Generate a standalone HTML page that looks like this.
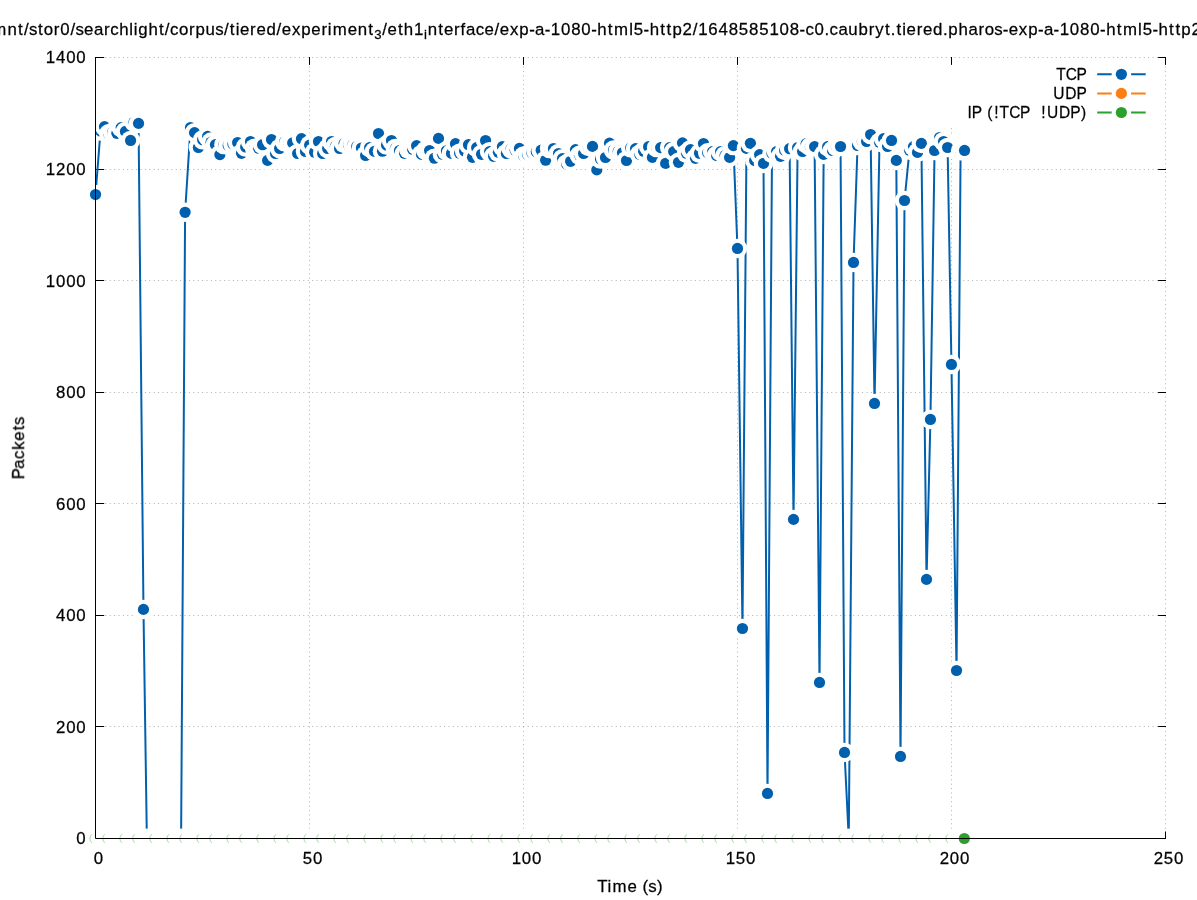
<!DOCTYPE html>
<html><head><meta charset="utf-8"><title>Packets over time</title>
<style>html,body{margin:0;padding:0;background:#fff}svg{display:block}text{font-family:"Liberation Sans",sans-serif;fill:#000;stroke:#000;stroke-width:0.25px;white-space:pre}</style></head>
<body>
<svg width="1197" height="900" viewBox="0 0 1197 900">
<rect width="1197" height="900" fill="#fff"/>
<g stroke="#000" stroke-opacity="0.31" stroke-width="1" stroke-dasharray="1 3.4" fill="none">
<path d="M96.5 726.5H1165.5"/>
<path d="M96.5 615.5H1165.5"/>
<path d="M96.5 503.5H1165.5"/>
<path d="M96.5 392.5H1165.5"/>
<path d="M96.5 280.5H1165.5"/>
<path d="M96.5 169.5H1165.5"/>
<path d="M96.5 57.5H1165.5"/>
<path d="M309.5 837.5V57.5"/>
<path d="M523.5 837.5V57.5"/>
<path d="M737.5 837.5V57.5"/>
<path d="M951.5 837.5V125.0"/>
<path d="M1165.5 837.5V57.5"/>
</g>
<g stroke="#000" stroke-width="1" fill="none">
<path d="M95.5 838.5h8.7M1166.0 838.5h-7.9"/>
<path d="M95.5 726.5h8.7M1166.0 726.5h-7.9"/>
<path d="M95.5 615.5h8.7M1166.0 615.5h-7.9"/>
<path d="M95.5 503.5h8.7M1166.0 503.5h-7.9"/>
<path d="M95.5 392.5h8.7M1166.0 392.5h-7.9"/>
<path d="M95.5 280.5h8.7M1166.0 280.5h-7.9"/>
<path d="M95.5 169.5h8.7M1166.0 169.5h-7.9"/>
<path d="M95.5 57.5h8.7M1166.0 57.5h-7.9"/>
<path d="M95.5 838.5v-7.0M95.5 57.0v7.9"/>
<path d="M309.5 838.5v-7.0M309.5 57.0v7.9"/>
<path d="M523.5 838.5v-7.0M523.5 57.0v7.9"/>
<path d="M737.5 838.5v-7.0M737.5 57.0v7.9"/>
<path d="M951.5 838.5v-7.0M951.5 57.0v7.9"/>
<path d="M1165.5 838.5v-7.0M1165.5 57.0v7.9"/>
</g>
<path d="M95.53 194.52 L100.50 131.10 L104.50 126.70 L108.70 133.80 L112.62 132.30 L116.90 133.30 L121.18 127.60 L125.46 131.40 L130.55 140.44 L134.02 122.10 L138.54 123.40 L143.47 609.40 L146.86 838.50 L151.14 838.50 L155.42 838.50 L159.70 838.50 L163.98 838.50 L168.26 838.50 L172.54 838.50 L176.82 838.50 L181.10 838.50 L185.10 212.30 L190.50 127.50 L194.56 132.66 L198.40 147.50 L202.60 139.80 L207.60 136.40 L211.06 142.10 L215.46 144.60 L219.90 154.60 L223.90 144.60 L228.20 145.40 L232.90 144.10 L237.63 142.50 L241.50 153.30 L245.65 147.00 L250.50 141.50 L254.60 148.20 L258.56 148.20 L262.57 144.70 L267.60 160.40 L271.50 139.50 L275.50 153.50 L279.60 148.50 L284.60 141.80 L288.80 143.30 L292.65 142.90 L297.66 153.50 L301.50 138.70 L305.50 151.50 L309.63 145.10 L314.60 152.20 L318.50 141.55 L322.66 153.50 L327.67 148.50 L331.55 141.55 L335.40 146.40 L339.57 148.50 L344.10 143.40 L348.60 145.20 L352.80 144.70 L356.75 146.40 L361.40 148.00 L365.60 155.50 L369.65 147.60 L374.50 151.40 L378.50 133.50 L382.50 151.20 L386.50 145.10 L391.50 140.50 L395.40 148.40 L399.50 150.50 L404.50 153.30 L408.70 149.30 L412.57 149.30 L416.60 145.70 L421.50 154.40 L425.80 150.50 L429.60 150.50 L434.40 158.20 L438.50 138.40 L442.45 154.20 L446.46 150.80 L451.50 153.40 L455.50 143.70 L459.60 153.20 L464.60 151.00 L468.50 144.70 L472.50 157.30 L476.65 147.70 L481.55 154.30 L485.56 140.50 L489.57 151.70 L493.60 156.30 L498.40 152.30 L502.40 146.70 L506.40 153.50 L511.10 148.80 L515.20 150.20 L519.45 148.40 L523.60 156.10 L527.75 154.80 L531.95 153.00 L536.30 151.70 L541.20 150.20 L545.65 160.20 L549.60 148.50 L553.50 148.50 L558.56 153.50 L562.50 158.70 L566.58 164.00 L570.60 161.30 L575.50 149.60 L579.50 155.30 L583.60 153.50 L588.40 146.40 L592.50 146.40 L596.80 169.90 L600.50 159.10 L605.50 157.50 L609.50 143.10 L613.50 150.10 L618.20 151.40 L622.50 152.80 L626.50 160.50 L630.70 147.80 L635.56 148.70 L639.57 154.30 L643.60 151.30 L648.60 146.70 L652.40 157.40 L656.60 147.60 L660.63 147.60 L665.64 163.40 L669.65 147.60 L673.66 151.60 L678.50 162.30 L682.50 142.90 L686.50 153.30 L690.50 149.70 L695.50 158.30 L699.50 153.30 L703.50 143.50 L707.70 152.80 L712.60 151.70 L716.60 155.50 L720.60 151.70 L725.10 155.40 L729.60 157.40 L733.40 145.60 L737.48 248.44 L742.47 628.50 L746.46 148.40 L750.40 143.30 L754.70 160.50 L759.60 154.60 L763.50 163.40 L767.50 793.46 L772.00 153.40 L776.54 151.70 L780.55 156.30 L784.70 150.40 L789.60 148.70 L793.52 519.40 L797.60 147.70 L802.60 151.50 L806.15 143.60 L810.40 146.60 L814.60 146.60 L819.51 682.42 L823.66 154.40 L827.67 146.70 L832.50 150.45 L836.40 146.50 L840.54 146.50 L844.52 752.42 L848.77 838.50 L853.52 262.42 L857.55 145.50 L862.30 141.50 L866.60 141.50 L870.60 134.55 L874.52 403.46 L879.50 142.30 L883.60 138.70 L887.60 146.50 L891.54 140.46 L896.30 160.40 L900.51 756.46 L904.52 200.51 L909.50 150.20 L913.50 146.60 L917.50 152.40 L921.39 143.40 L926.53 579.41 L930.44 419.44 L934.56 150.50 L939.60 137.50 L943.60 141.50 L947.60 147.50 L951.44 364.44 L956.53 670.51 L960.60 150.80 L964.54 150.47" stroke="#0060ad" stroke-width="2.0" fill="none" stroke-linejoin="round"/>
<g>
<circle cx="95.53" cy="194.52" r="9.75" fill="#fff"/><circle cx="95.53" cy="194.52" r="5.60" fill="#0060ad"/>
<circle cx="100.50" cy="131.10" r="9.75" fill="#fff"/><circle cx="100.50" cy="131.10" r="5.60" fill="#0060ad"/>
<circle cx="104.50" cy="126.70" r="9.75" fill="#fff"/><circle cx="104.50" cy="126.70" r="5.60" fill="#0060ad"/>
<circle cx="108.70" cy="133.80" r="9.75" fill="#fff"/><circle cx="108.70" cy="133.80" r="5.60" fill="#0060ad"/>
<circle cx="112.62" cy="132.30" r="9.75" fill="#fff"/><circle cx="112.62" cy="132.30" r="5.60" fill="#0060ad"/>
<circle cx="116.90" cy="133.30" r="9.75" fill="#fff"/><circle cx="116.90" cy="133.30" r="5.60" fill="#0060ad"/>
<circle cx="121.18" cy="127.60" r="9.75" fill="#fff"/><circle cx="121.18" cy="127.60" r="5.60" fill="#0060ad"/>
<circle cx="125.46" cy="131.40" r="9.75" fill="#fff"/><circle cx="125.46" cy="131.40" r="5.60" fill="#0060ad"/>
<circle cx="130.55" cy="140.44" r="9.75" fill="#fff"/><circle cx="130.55" cy="140.44" r="5.60" fill="#0060ad"/>
<circle cx="134.02" cy="122.10" r="9.75" fill="#fff"/><circle cx="134.02" cy="122.10" r="5.60" fill="#0060ad"/>
<circle cx="138.54" cy="123.40" r="9.75" fill="#fff"/><circle cx="138.54" cy="123.40" r="5.60" fill="#0060ad"/>
<circle cx="143.47" cy="609.40" r="9.75" fill="#fff"/><circle cx="143.47" cy="609.40" r="5.60" fill="#0060ad"/>
<circle cx="146.86" cy="838.50" r="9.75" fill="#fff"/><circle cx="146.86" cy="838.50" r="5.60" fill="#0060ad"/>
<circle cx="151.14" cy="838.50" r="9.75" fill="#fff"/><circle cx="151.14" cy="838.50" r="5.60" fill="#0060ad"/>
<circle cx="155.42" cy="838.50" r="9.75" fill="#fff"/><circle cx="155.42" cy="838.50" r="5.60" fill="#0060ad"/>
<circle cx="159.70" cy="838.50" r="9.75" fill="#fff"/><circle cx="159.70" cy="838.50" r="5.60" fill="#0060ad"/>
<circle cx="163.98" cy="838.50" r="9.75" fill="#fff"/><circle cx="163.98" cy="838.50" r="5.60" fill="#0060ad"/>
<circle cx="168.26" cy="838.50" r="9.75" fill="#fff"/><circle cx="168.26" cy="838.50" r="5.60" fill="#0060ad"/>
<circle cx="172.54" cy="838.50" r="9.75" fill="#fff"/><circle cx="172.54" cy="838.50" r="5.60" fill="#0060ad"/>
<circle cx="176.82" cy="838.50" r="9.75" fill="#fff"/><circle cx="176.82" cy="838.50" r="5.60" fill="#0060ad"/>
<circle cx="181.10" cy="838.50" r="9.75" fill="#fff"/><circle cx="181.10" cy="838.50" r="5.60" fill="#0060ad"/>
<circle cx="185.10" cy="212.30" r="9.75" fill="#fff"/><circle cx="185.10" cy="212.30" r="5.60" fill="#0060ad"/>
<circle cx="190.50" cy="127.50" r="9.75" fill="#fff"/><circle cx="190.50" cy="127.50" r="5.60" fill="#0060ad"/>
<circle cx="194.56" cy="132.66" r="9.75" fill="#fff"/><circle cx="194.56" cy="132.66" r="5.60" fill="#0060ad"/>
<circle cx="198.40" cy="147.50" r="9.75" fill="#fff"/><circle cx="198.40" cy="147.50" r="5.60" fill="#0060ad"/>
<circle cx="202.60" cy="139.80" r="9.75" fill="#fff"/><circle cx="202.60" cy="139.80" r="5.60" fill="#0060ad"/>
<circle cx="207.60" cy="136.40" r="9.75" fill="#fff"/><circle cx="207.60" cy="136.40" r="5.60" fill="#0060ad"/>
<circle cx="211.06" cy="142.10" r="9.75" fill="#fff"/><circle cx="211.06" cy="142.10" r="5.60" fill="#0060ad"/>
<circle cx="215.46" cy="144.60" r="9.75" fill="#fff"/><circle cx="215.46" cy="144.60" r="5.60" fill="#0060ad"/>
<circle cx="219.90" cy="154.60" r="9.75" fill="#fff"/><circle cx="219.90" cy="154.60" r="5.60" fill="#0060ad"/>
<circle cx="223.90" cy="144.60" r="9.75" fill="#fff"/><circle cx="223.90" cy="144.60" r="5.60" fill="#0060ad"/>
<circle cx="228.20" cy="145.40" r="9.75" fill="#fff"/><circle cx="228.20" cy="145.40" r="5.60" fill="#0060ad"/>
<circle cx="232.90" cy="144.10" r="9.75" fill="#fff"/><circle cx="232.90" cy="144.10" r="5.60" fill="#0060ad"/>
<circle cx="237.63" cy="142.50" r="9.75" fill="#fff"/><circle cx="237.63" cy="142.50" r="5.60" fill="#0060ad"/>
<circle cx="241.50" cy="153.30" r="9.75" fill="#fff"/><circle cx="241.50" cy="153.30" r="5.60" fill="#0060ad"/>
<circle cx="245.65" cy="147.00" r="9.75" fill="#fff"/><circle cx="245.65" cy="147.00" r="5.60" fill="#0060ad"/>
<circle cx="250.50" cy="141.50" r="9.75" fill="#fff"/><circle cx="250.50" cy="141.50" r="5.60" fill="#0060ad"/>
<circle cx="254.60" cy="148.20" r="9.75" fill="#fff"/><circle cx="254.60" cy="148.20" r="5.60" fill="#0060ad"/>
<circle cx="258.56" cy="148.20" r="9.75" fill="#fff"/><circle cx="258.56" cy="148.20" r="5.60" fill="#0060ad"/>
<circle cx="262.57" cy="144.70" r="9.75" fill="#fff"/><circle cx="262.57" cy="144.70" r="5.60" fill="#0060ad"/>
<circle cx="267.60" cy="160.40" r="9.75" fill="#fff"/><circle cx="267.60" cy="160.40" r="5.60" fill="#0060ad"/>
<circle cx="271.50" cy="139.50" r="9.75" fill="#fff"/><circle cx="271.50" cy="139.50" r="5.60" fill="#0060ad"/>
<circle cx="275.50" cy="153.50" r="9.75" fill="#fff"/><circle cx="275.50" cy="153.50" r="5.60" fill="#0060ad"/>
<circle cx="279.60" cy="148.50" r="9.75" fill="#fff"/><circle cx="279.60" cy="148.50" r="5.60" fill="#0060ad"/>
<circle cx="284.60" cy="141.80" r="9.75" fill="#fff"/><circle cx="284.60" cy="141.80" r="5.60" fill="#0060ad"/>
<circle cx="288.80" cy="143.30" r="9.75" fill="#fff"/><circle cx="288.80" cy="143.30" r="5.60" fill="#0060ad"/>
<circle cx="292.65" cy="142.90" r="9.75" fill="#fff"/><circle cx="292.65" cy="142.90" r="5.60" fill="#0060ad"/>
<circle cx="297.66" cy="153.50" r="9.75" fill="#fff"/><circle cx="297.66" cy="153.50" r="5.60" fill="#0060ad"/>
<circle cx="301.50" cy="138.70" r="9.75" fill="#fff"/><circle cx="301.50" cy="138.70" r="5.60" fill="#0060ad"/>
<circle cx="305.50" cy="151.50" r="9.75" fill="#fff"/><circle cx="305.50" cy="151.50" r="5.60" fill="#0060ad"/>
<circle cx="309.63" cy="145.10" r="9.75" fill="#fff"/><circle cx="309.63" cy="145.10" r="5.60" fill="#0060ad"/>
<circle cx="314.60" cy="152.20" r="9.75" fill="#fff"/><circle cx="314.60" cy="152.20" r="5.60" fill="#0060ad"/>
<circle cx="318.50" cy="141.55" r="9.75" fill="#fff"/><circle cx="318.50" cy="141.55" r="5.60" fill="#0060ad"/>
<circle cx="322.66" cy="153.50" r="9.75" fill="#fff"/><circle cx="322.66" cy="153.50" r="5.60" fill="#0060ad"/>
<circle cx="327.67" cy="148.50" r="9.75" fill="#fff"/><circle cx="327.67" cy="148.50" r="5.60" fill="#0060ad"/>
<circle cx="331.55" cy="141.55" r="9.75" fill="#fff"/><circle cx="331.55" cy="141.55" r="5.60" fill="#0060ad"/>
<circle cx="335.40" cy="146.40" r="9.75" fill="#fff"/><circle cx="335.40" cy="146.40" r="5.60" fill="#0060ad"/>
<circle cx="339.57" cy="148.50" r="9.75" fill="#fff"/><circle cx="339.57" cy="148.50" r="5.60" fill="#0060ad"/>
<circle cx="344.10" cy="143.40" r="9.75" fill="#fff"/><circle cx="344.10" cy="143.40" r="5.60" fill="#0060ad"/>
<circle cx="348.60" cy="145.20" r="9.75" fill="#fff"/><circle cx="348.60" cy="145.20" r="5.60" fill="#0060ad"/>
<circle cx="352.80" cy="144.70" r="9.75" fill="#fff"/><circle cx="352.80" cy="144.70" r="5.60" fill="#0060ad"/>
<circle cx="356.75" cy="146.40" r="9.75" fill="#fff"/><circle cx="356.75" cy="146.40" r="5.60" fill="#0060ad"/>
<circle cx="361.40" cy="148.00" r="9.75" fill="#fff"/><circle cx="361.40" cy="148.00" r="5.60" fill="#0060ad"/>
<circle cx="365.60" cy="155.50" r="9.75" fill="#fff"/><circle cx="365.60" cy="155.50" r="5.60" fill="#0060ad"/>
<circle cx="369.65" cy="147.60" r="9.75" fill="#fff"/><circle cx="369.65" cy="147.60" r="5.60" fill="#0060ad"/>
<circle cx="374.50" cy="151.40" r="9.75" fill="#fff"/><circle cx="374.50" cy="151.40" r="5.60" fill="#0060ad"/>
<circle cx="378.50" cy="133.50" r="9.75" fill="#fff"/><circle cx="378.50" cy="133.50" r="5.60" fill="#0060ad"/>
<circle cx="382.50" cy="151.20" r="9.75" fill="#fff"/><circle cx="382.50" cy="151.20" r="5.60" fill="#0060ad"/>
<circle cx="386.50" cy="145.10" r="9.75" fill="#fff"/><circle cx="386.50" cy="145.10" r="5.60" fill="#0060ad"/>
<circle cx="391.50" cy="140.50" r="9.75" fill="#fff"/><circle cx="391.50" cy="140.50" r="5.60" fill="#0060ad"/>
<circle cx="395.40" cy="148.40" r="9.75" fill="#fff"/><circle cx="395.40" cy="148.40" r="5.60" fill="#0060ad"/>
<circle cx="399.50" cy="150.50" r="9.75" fill="#fff"/><circle cx="399.50" cy="150.50" r="5.60" fill="#0060ad"/>
<circle cx="404.50" cy="153.30" r="9.75" fill="#fff"/><circle cx="404.50" cy="153.30" r="5.60" fill="#0060ad"/>
<circle cx="408.70" cy="149.30" r="9.75" fill="#fff"/><circle cx="408.70" cy="149.30" r="5.60" fill="#0060ad"/>
<circle cx="412.57" cy="149.30" r="9.75" fill="#fff"/><circle cx="412.57" cy="149.30" r="5.60" fill="#0060ad"/>
<circle cx="416.60" cy="145.70" r="9.75" fill="#fff"/><circle cx="416.60" cy="145.70" r="5.60" fill="#0060ad"/>
<circle cx="421.50" cy="154.40" r="9.75" fill="#fff"/><circle cx="421.50" cy="154.40" r="5.60" fill="#0060ad"/>
<circle cx="425.80" cy="150.50" r="9.75" fill="#fff"/><circle cx="425.80" cy="150.50" r="5.60" fill="#0060ad"/>
<circle cx="429.60" cy="150.50" r="9.75" fill="#fff"/><circle cx="429.60" cy="150.50" r="5.60" fill="#0060ad"/>
<circle cx="434.40" cy="158.20" r="9.75" fill="#fff"/><circle cx="434.40" cy="158.20" r="5.60" fill="#0060ad"/>
<circle cx="438.50" cy="138.40" r="9.75" fill="#fff"/><circle cx="438.50" cy="138.40" r="5.60" fill="#0060ad"/>
<circle cx="442.45" cy="154.20" r="9.75" fill="#fff"/><circle cx="442.45" cy="154.20" r="5.60" fill="#0060ad"/>
<circle cx="446.46" cy="150.80" r="9.75" fill="#fff"/><circle cx="446.46" cy="150.80" r="5.60" fill="#0060ad"/>
<circle cx="451.50" cy="153.40" r="9.75" fill="#fff"/><circle cx="451.50" cy="153.40" r="5.60" fill="#0060ad"/>
<circle cx="455.50" cy="143.70" r="9.75" fill="#fff"/><circle cx="455.50" cy="143.70" r="5.60" fill="#0060ad"/>
<circle cx="459.60" cy="153.20" r="9.75" fill="#fff"/><circle cx="459.60" cy="153.20" r="5.60" fill="#0060ad"/>
<circle cx="464.60" cy="151.00" r="9.75" fill="#fff"/><circle cx="464.60" cy="151.00" r="5.60" fill="#0060ad"/>
<circle cx="468.50" cy="144.70" r="9.75" fill="#fff"/><circle cx="468.50" cy="144.70" r="5.60" fill="#0060ad"/>
<circle cx="472.50" cy="157.30" r="9.75" fill="#fff"/><circle cx="472.50" cy="157.30" r="5.60" fill="#0060ad"/>
<circle cx="476.65" cy="147.70" r="9.75" fill="#fff"/><circle cx="476.65" cy="147.70" r="5.60" fill="#0060ad"/>
<circle cx="481.55" cy="154.30" r="9.75" fill="#fff"/><circle cx="481.55" cy="154.30" r="5.60" fill="#0060ad"/>
<circle cx="485.56" cy="140.50" r="9.75" fill="#fff"/><circle cx="485.56" cy="140.50" r="5.60" fill="#0060ad"/>
<circle cx="489.57" cy="151.70" r="9.75" fill="#fff"/><circle cx="489.57" cy="151.70" r="5.60" fill="#0060ad"/>
<circle cx="493.60" cy="156.30" r="9.75" fill="#fff"/><circle cx="493.60" cy="156.30" r="5.60" fill="#0060ad"/>
<circle cx="498.40" cy="152.30" r="9.75" fill="#fff"/><circle cx="498.40" cy="152.30" r="5.60" fill="#0060ad"/>
<circle cx="502.40" cy="146.70" r="9.75" fill="#fff"/><circle cx="502.40" cy="146.70" r="5.60" fill="#0060ad"/>
<circle cx="506.40" cy="153.50" r="9.75" fill="#fff"/><circle cx="506.40" cy="153.50" r="5.60" fill="#0060ad"/>
<circle cx="511.10" cy="148.80" r="9.75" fill="#fff"/><circle cx="511.10" cy="148.80" r="5.60" fill="#0060ad"/>
<circle cx="515.20" cy="150.20" r="9.75" fill="#fff"/><circle cx="515.20" cy="150.20" r="5.60" fill="#0060ad"/>
<circle cx="519.45" cy="148.40" r="9.75" fill="#fff"/><circle cx="519.45" cy="148.40" r="5.60" fill="#0060ad"/>
<circle cx="523.60" cy="156.10" r="9.75" fill="#fff"/><circle cx="523.60" cy="156.10" r="5.60" fill="#0060ad"/>
<circle cx="527.75" cy="154.80" r="9.75" fill="#fff"/><circle cx="527.75" cy="154.80" r="5.60" fill="#0060ad"/>
<circle cx="531.95" cy="153.00" r="9.75" fill="#fff"/><circle cx="531.95" cy="153.00" r="5.60" fill="#0060ad"/>
<circle cx="536.30" cy="151.70" r="9.75" fill="#fff"/><circle cx="536.30" cy="151.70" r="5.60" fill="#0060ad"/>
<circle cx="541.20" cy="150.20" r="9.75" fill="#fff"/><circle cx="541.20" cy="150.20" r="5.60" fill="#0060ad"/>
<circle cx="545.65" cy="160.20" r="9.75" fill="#fff"/><circle cx="545.65" cy="160.20" r="5.60" fill="#0060ad"/>
<circle cx="549.60" cy="148.50" r="9.75" fill="#fff"/><circle cx="549.60" cy="148.50" r="5.60" fill="#0060ad"/>
<circle cx="553.50" cy="148.50" r="9.75" fill="#fff"/><circle cx="553.50" cy="148.50" r="5.60" fill="#0060ad"/>
<circle cx="558.56" cy="153.50" r="9.75" fill="#fff"/><circle cx="558.56" cy="153.50" r="5.60" fill="#0060ad"/>
<circle cx="562.50" cy="158.70" r="9.75" fill="#fff"/><circle cx="562.50" cy="158.70" r="5.60" fill="#0060ad"/>
<circle cx="566.58" cy="164.00" r="9.75" fill="#fff"/><circle cx="566.58" cy="164.00" r="5.60" fill="#0060ad"/>
<circle cx="570.60" cy="161.30" r="9.75" fill="#fff"/><circle cx="570.60" cy="161.30" r="5.60" fill="#0060ad"/>
<circle cx="575.50" cy="149.60" r="9.75" fill="#fff"/><circle cx="575.50" cy="149.60" r="5.60" fill="#0060ad"/>
<circle cx="579.50" cy="155.30" r="9.75" fill="#fff"/><circle cx="579.50" cy="155.30" r="5.60" fill="#0060ad"/>
<circle cx="583.60" cy="153.50" r="9.75" fill="#fff"/><circle cx="583.60" cy="153.50" r="5.60" fill="#0060ad"/>
<circle cx="588.40" cy="146.40" r="9.75" fill="#fff"/><circle cx="588.40" cy="146.40" r="5.60" fill="#0060ad"/>
<circle cx="592.50" cy="146.40" r="9.75" fill="#fff"/><circle cx="592.50" cy="146.40" r="5.60" fill="#0060ad"/>
<circle cx="596.80" cy="169.90" r="9.75" fill="#fff"/><circle cx="596.80" cy="169.90" r="5.60" fill="#0060ad"/>
<circle cx="600.50" cy="159.10" r="9.75" fill="#fff"/><circle cx="600.50" cy="159.10" r="5.60" fill="#0060ad"/>
<circle cx="605.50" cy="157.50" r="9.75" fill="#fff"/><circle cx="605.50" cy="157.50" r="5.60" fill="#0060ad"/>
<circle cx="609.50" cy="143.10" r="9.75" fill="#fff"/><circle cx="609.50" cy="143.10" r="5.60" fill="#0060ad"/>
<circle cx="613.50" cy="150.10" r="9.75" fill="#fff"/><circle cx="613.50" cy="150.10" r="5.60" fill="#0060ad"/>
<circle cx="618.20" cy="151.40" r="9.75" fill="#fff"/><circle cx="618.20" cy="151.40" r="5.60" fill="#0060ad"/>
<circle cx="622.50" cy="152.80" r="9.75" fill="#fff"/><circle cx="622.50" cy="152.80" r="5.60" fill="#0060ad"/>
<circle cx="626.50" cy="160.50" r="9.75" fill="#fff"/><circle cx="626.50" cy="160.50" r="5.60" fill="#0060ad"/>
<circle cx="630.70" cy="147.80" r="9.75" fill="#fff"/><circle cx="630.70" cy="147.80" r="5.60" fill="#0060ad"/>
<circle cx="635.56" cy="148.70" r="9.75" fill="#fff"/><circle cx="635.56" cy="148.70" r="5.60" fill="#0060ad"/>
<circle cx="639.57" cy="154.30" r="9.75" fill="#fff"/><circle cx="639.57" cy="154.30" r="5.60" fill="#0060ad"/>
<circle cx="643.60" cy="151.30" r="9.75" fill="#fff"/><circle cx="643.60" cy="151.30" r="5.60" fill="#0060ad"/>
<circle cx="648.60" cy="146.70" r="9.75" fill="#fff"/><circle cx="648.60" cy="146.70" r="5.60" fill="#0060ad"/>
<circle cx="652.40" cy="157.40" r="9.75" fill="#fff"/><circle cx="652.40" cy="157.40" r="5.60" fill="#0060ad"/>
<circle cx="656.60" cy="147.60" r="9.75" fill="#fff"/><circle cx="656.60" cy="147.60" r="5.60" fill="#0060ad"/>
<circle cx="660.63" cy="147.60" r="9.75" fill="#fff"/><circle cx="660.63" cy="147.60" r="5.60" fill="#0060ad"/>
<circle cx="665.64" cy="163.40" r="9.75" fill="#fff"/><circle cx="665.64" cy="163.40" r="5.60" fill="#0060ad"/>
<circle cx="669.65" cy="147.60" r="9.75" fill="#fff"/><circle cx="669.65" cy="147.60" r="5.60" fill="#0060ad"/>
<circle cx="673.66" cy="151.60" r="9.75" fill="#fff"/><circle cx="673.66" cy="151.60" r="5.60" fill="#0060ad"/>
<circle cx="678.50" cy="162.30" r="9.75" fill="#fff"/><circle cx="678.50" cy="162.30" r="5.60" fill="#0060ad"/>
<circle cx="682.50" cy="142.90" r="9.75" fill="#fff"/><circle cx="682.50" cy="142.90" r="5.60" fill="#0060ad"/>
<circle cx="686.50" cy="153.30" r="9.75" fill="#fff"/><circle cx="686.50" cy="153.30" r="5.60" fill="#0060ad"/>
<circle cx="690.50" cy="149.70" r="9.75" fill="#fff"/><circle cx="690.50" cy="149.70" r="5.60" fill="#0060ad"/>
<circle cx="695.50" cy="158.30" r="9.75" fill="#fff"/><circle cx="695.50" cy="158.30" r="5.60" fill="#0060ad"/>
<circle cx="699.50" cy="153.30" r="9.75" fill="#fff"/><circle cx="699.50" cy="153.30" r="5.60" fill="#0060ad"/>
<circle cx="703.50" cy="143.50" r="9.75" fill="#fff"/><circle cx="703.50" cy="143.50" r="5.60" fill="#0060ad"/>
<circle cx="707.70" cy="152.80" r="9.75" fill="#fff"/><circle cx="707.70" cy="152.80" r="5.60" fill="#0060ad"/>
<circle cx="712.60" cy="151.70" r="9.75" fill="#fff"/><circle cx="712.60" cy="151.70" r="5.60" fill="#0060ad"/>
<circle cx="716.60" cy="155.50" r="9.75" fill="#fff"/><circle cx="716.60" cy="155.50" r="5.60" fill="#0060ad"/>
<circle cx="720.60" cy="151.70" r="9.75" fill="#fff"/><circle cx="720.60" cy="151.70" r="5.60" fill="#0060ad"/>
<circle cx="725.10" cy="155.40" r="9.75" fill="#fff"/><circle cx="725.10" cy="155.40" r="5.60" fill="#0060ad"/>
<circle cx="729.60" cy="157.40" r="9.75" fill="#fff"/><circle cx="729.60" cy="157.40" r="5.60" fill="#0060ad"/>
<circle cx="733.40" cy="145.60" r="9.75" fill="#fff"/><circle cx="733.40" cy="145.60" r="5.60" fill="#0060ad"/>
<circle cx="737.48" cy="248.44" r="9.75" fill="#fff"/><circle cx="737.48" cy="248.44" r="5.60" fill="#0060ad"/>
<circle cx="742.47" cy="628.50" r="9.75" fill="#fff"/><circle cx="742.47" cy="628.50" r="5.60" fill="#0060ad"/>
<circle cx="746.46" cy="148.40" r="9.75" fill="#fff"/><circle cx="746.46" cy="148.40" r="5.60" fill="#0060ad"/>
<circle cx="750.40" cy="143.30" r="9.75" fill="#fff"/><circle cx="750.40" cy="143.30" r="5.60" fill="#0060ad"/>
<circle cx="754.70" cy="160.50" r="9.75" fill="#fff"/><circle cx="754.70" cy="160.50" r="5.60" fill="#0060ad"/>
<circle cx="759.60" cy="154.60" r="9.75" fill="#fff"/><circle cx="759.60" cy="154.60" r="5.60" fill="#0060ad"/>
<circle cx="763.50" cy="163.40" r="9.75" fill="#fff"/><circle cx="763.50" cy="163.40" r="5.60" fill="#0060ad"/>
<circle cx="767.50" cy="793.46" r="9.75" fill="#fff"/><circle cx="767.50" cy="793.46" r="5.60" fill="#0060ad"/>
<circle cx="772.00" cy="153.40" r="9.75" fill="#fff"/><circle cx="772.00" cy="153.40" r="5.60" fill="#0060ad"/>
<circle cx="776.54" cy="151.70" r="9.75" fill="#fff"/><circle cx="776.54" cy="151.70" r="5.60" fill="#0060ad"/>
<circle cx="780.55" cy="156.30" r="9.75" fill="#fff"/><circle cx="780.55" cy="156.30" r="5.60" fill="#0060ad"/>
<circle cx="784.70" cy="150.40" r="9.75" fill="#fff"/><circle cx="784.70" cy="150.40" r="5.60" fill="#0060ad"/>
<circle cx="789.60" cy="148.70" r="9.75" fill="#fff"/><circle cx="789.60" cy="148.70" r="5.60" fill="#0060ad"/>
<circle cx="793.52" cy="519.40" r="9.75" fill="#fff"/><circle cx="793.52" cy="519.40" r="5.60" fill="#0060ad"/>
<circle cx="797.60" cy="147.70" r="9.75" fill="#fff"/><circle cx="797.60" cy="147.70" r="5.60" fill="#0060ad"/>
<circle cx="802.60" cy="151.50" r="9.75" fill="#fff"/><circle cx="802.60" cy="151.50" r="5.60" fill="#0060ad"/>
<circle cx="806.15" cy="143.60" r="9.75" fill="#fff"/><circle cx="806.15" cy="143.60" r="5.60" fill="#0060ad"/>
<circle cx="810.40" cy="146.60" r="9.75" fill="#fff"/><circle cx="810.40" cy="146.60" r="5.60" fill="#0060ad"/>
<circle cx="814.60" cy="146.60" r="9.75" fill="#fff"/><circle cx="814.60" cy="146.60" r="5.60" fill="#0060ad"/>
<circle cx="819.51" cy="682.42" r="9.75" fill="#fff"/><circle cx="819.51" cy="682.42" r="5.60" fill="#0060ad"/>
<circle cx="823.66" cy="154.40" r="9.75" fill="#fff"/><circle cx="823.66" cy="154.40" r="5.60" fill="#0060ad"/>
<circle cx="827.67" cy="146.70" r="9.75" fill="#fff"/><circle cx="827.67" cy="146.70" r="5.60" fill="#0060ad"/>
<circle cx="832.50" cy="150.45" r="9.75" fill="#fff"/><circle cx="832.50" cy="150.45" r="5.60" fill="#0060ad"/>
<circle cx="836.40" cy="146.50" r="9.75" fill="#fff"/><circle cx="836.40" cy="146.50" r="5.60" fill="#0060ad"/>
<circle cx="840.54" cy="146.50" r="9.75" fill="#fff"/><circle cx="840.54" cy="146.50" r="5.60" fill="#0060ad"/>
<circle cx="844.52" cy="752.42" r="9.75" fill="#fff"/><circle cx="844.52" cy="752.42" r="5.60" fill="#0060ad"/>
<circle cx="848.77" cy="838.50" r="9.75" fill="#fff"/><circle cx="848.77" cy="838.50" r="5.60" fill="#0060ad"/>
<circle cx="853.52" cy="262.42" r="9.75" fill="#fff"/><circle cx="853.52" cy="262.42" r="5.60" fill="#0060ad"/>
<circle cx="857.55" cy="145.50" r="9.75" fill="#fff"/><circle cx="857.55" cy="145.50" r="5.60" fill="#0060ad"/>
<circle cx="862.30" cy="141.50" r="9.75" fill="#fff"/><circle cx="862.30" cy="141.50" r="5.60" fill="#0060ad"/>
<circle cx="866.60" cy="141.50" r="9.75" fill="#fff"/><circle cx="866.60" cy="141.50" r="5.60" fill="#0060ad"/>
<circle cx="870.60" cy="134.55" r="9.75" fill="#fff"/><circle cx="870.60" cy="134.55" r="5.60" fill="#0060ad"/>
<circle cx="874.52" cy="403.46" r="9.75" fill="#fff"/><circle cx="874.52" cy="403.46" r="5.60" fill="#0060ad"/>
<circle cx="879.50" cy="142.30" r="9.75" fill="#fff"/><circle cx="879.50" cy="142.30" r="5.60" fill="#0060ad"/>
<circle cx="883.60" cy="138.70" r="9.75" fill="#fff"/><circle cx="883.60" cy="138.70" r="5.60" fill="#0060ad"/>
<circle cx="887.60" cy="146.50" r="9.75" fill="#fff"/><circle cx="887.60" cy="146.50" r="5.60" fill="#0060ad"/>
<circle cx="891.54" cy="140.46" r="9.75" fill="#fff"/><circle cx="891.54" cy="140.46" r="5.60" fill="#0060ad"/>
<circle cx="896.30" cy="160.40" r="9.75" fill="#fff"/><circle cx="896.30" cy="160.40" r="5.60" fill="#0060ad"/>
<circle cx="900.51" cy="756.46" r="9.75" fill="#fff"/><circle cx="900.51" cy="756.46" r="5.60" fill="#0060ad"/>
<circle cx="904.52" cy="200.51" r="9.75" fill="#fff"/><circle cx="904.52" cy="200.51" r="5.60" fill="#0060ad"/>
<circle cx="909.50" cy="150.20" r="9.75" fill="#fff"/><circle cx="909.50" cy="150.20" r="5.60" fill="#0060ad"/>
<circle cx="913.50" cy="146.60" r="9.75" fill="#fff"/><circle cx="913.50" cy="146.60" r="5.60" fill="#0060ad"/>
<circle cx="917.50" cy="152.40" r="9.75" fill="#fff"/><circle cx="917.50" cy="152.40" r="5.60" fill="#0060ad"/>
<circle cx="921.39" cy="143.40" r="9.75" fill="#fff"/><circle cx="921.39" cy="143.40" r="5.60" fill="#0060ad"/>
<circle cx="926.53" cy="579.41" r="9.75" fill="#fff"/><circle cx="926.53" cy="579.41" r="5.60" fill="#0060ad"/>
<circle cx="930.44" cy="419.44" r="9.75" fill="#fff"/><circle cx="930.44" cy="419.44" r="5.60" fill="#0060ad"/>
<circle cx="934.56" cy="150.50" r="9.75" fill="#fff"/><circle cx="934.56" cy="150.50" r="5.60" fill="#0060ad"/>
<circle cx="939.60" cy="137.50" r="9.75" fill="#fff"/><circle cx="939.60" cy="137.50" r="5.60" fill="#0060ad"/>
<circle cx="943.60" cy="141.50" r="9.75" fill="#fff"/><circle cx="943.60" cy="141.50" r="5.60" fill="#0060ad"/>
<circle cx="947.60" cy="147.50" r="9.75" fill="#fff"/><circle cx="947.60" cy="147.50" r="5.60" fill="#0060ad"/>
<circle cx="951.44" cy="364.44" r="9.75" fill="#fff"/><circle cx="951.44" cy="364.44" r="5.60" fill="#0060ad"/>
<circle cx="956.53" cy="670.51" r="9.75" fill="#fff"/><circle cx="956.53" cy="670.51" r="5.60" fill="#0060ad"/>
<circle cx="960.60" cy="150.80" r="9.75" fill="#fff"/><circle cx="960.60" cy="150.80" r="5.60" fill="#0060ad"/>
<circle cx="964.54" cy="150.47" r="9.75" fill="#fff"/><circle cx="964.54" cy="150.47" r="5.60" fill="#0060ad"/>
</g>
<path d="M95.50 838.50H964.34" stroke="#fff" stroke-width="19.50" stroke-linecap="round" fill="none"/>
<g stroke="#2ca02c" stroke-opacity="0.6" stroke-width="0.7" fill="none">
<path d="M91.90 834.21A5.60 5.60 0 0 0 91.90 842.79"/>
<path d="M104.74 834.21A5.60 5.60 0 0 0 104.74 842.79"/>
<path d="M121.86 834.21A5.60 5.60 0 0 0 121.86 842.79"/>
<path d="M134.70 834.21A5.60 5.60 0 0 0 134.70 842.79"/>
<path d="M151.82 834.21A5.60 5.60 0 0 0 151.82 842.79"/>
<path d="M168.94 834.21A5.60 5.60 0 0 0 168.94 842.79"/>
<path d="M181.78 834.21A5.60 5.60 0 0 0 181.78 842.79"/>
<path d="M198.90 834.21A5.60 5.60 0 0 0 198.90 842.79"/>
<path d="M211.74 834.21A5.60 5.60 0 0 0 211.74 842.79"/>
<path d="M228.86 834.21A5.60 5.60 0 0 0 228.86 842.79"/>
<path d="M241.70 834.21A5.60 5.60 0 0 0 241.70 842.79"/>
<path d="M258.82 834.21A5.60 5.60 0 0 0 258.82 842.79"/>
<path d="M275.94 834.21A5.60 5.60 0 0 0 275.94 842.79"/>
<path d="M288.78 834.21A5.60 5.60 0 0 0 288.78 842.79"/>
<path d="M305.90 834.21A5.60 5.60 0 0 0 305.90 842.79"/>
<path d="M318.74 834.21A5.60 5.60 0 0 0 318.74 842.79"/>
<path d="M335.86 834.21A5.60 5.60 0 0 0 335.86 842.79"/>
<path d="M348.70 834.21A5.60 5.60 0 0 0 348.70 842.79"/>
<path d="M365.82 834.21A5.60 5.60 0 0 0 365.82 842.79"/>
<path d="M382.94 834.21A5.60 5.60 0 0 0 382.94 842.79"/>
<path d="M395.78 834.21A5.60 5.60 0 0 0 395.78 842.79"/>
<path d="M412.90 834.21A5.60 5.60 0 0 0 412.90 842.79"/>
<path d="M425.74 834.21A5.60 5.60 0 0 0 425.74 842.79"/>
<path d="M442.86 834.21A5.60 5.60 0 0 0 442.86 842.79"/>
<path d="M455.70 834.21A5.60 5.60 0 0 0 455.70 842.79"/>
<path d="M472.82 834.21A5.60 5.60 0 0 0 472.82 842.79"/>
<path d="M489.94 834.21A5.60 5.60 0 0 0 489.94 842.79"/>
<path d="M502.78 834.21A5.60 5.60 0 0 0 502.78 842.79"/>
<path d="M519.90 834.21A5.60 5.60 0 0 0 519.90 842.79"/>
<path d="M532.74 834.21A5.60 5.60 0 0 0 532.74 842.79"/>
<path d="M549.86 834.21A5.60 5.60 0 0 0 549.86 842.79"/>
<path d="M562.70 834.21A5.60 5.60 0 0 0 562.70 842.79"/>
<path d="M579.82 834.21A5.60 5.60 0 0 0 579.82 842.79"/>
<path d="M596.94 834.21A5.60 5.60 0 0 0 596.94 842.79"/>
<path d="M609.78 834.21A5.60 5.60 0 0 0 609.78 842.79"/>
<path d="M626.90 834.21A5.60 5.60 0 0 0 626.90 842.79"/>
<path d="M639.74 834.21A5.60 5.60 0 0 0 639.74 842.79"/>
<path d="M656.86 834.21A5.60 5.60 0 0 0 656.86 842.79"/>
<path d="M669.70 834.21A5.60 5.60 0 0 0 669.70 842.79"/>
<path d="M686.82 834.21A5.60 5.60 0 0 0 686.82 842.79"/>
<path d="M703.94 834.21A5.60 5.60 0 0 0 703.94 842.79"/>
<path d="M716.78 834.21A5.60 5.60 0 0 0 716.78 842.79"/>
<path d="M733.90 834.21A5.60 5.60 0 0 0 733.90 842.79"/>
<path d="M746.74 834.21A5.60 5.60 0 0 0 746.74 842.79"/>
<path d="M763.86 834.21A5.60 5.60 0 0 0 763.86 842.79"/>
<path d="M776.70 834.21A5.60 5.60 0 0 0 776.70 842.79"/>
<path d="M793.82 834.21A5.60 5.60 0 0 0 793.82 842.79"/>
<path d="M810.94 834.21A5.60 5.60 0 0 0 810.94 842.79"/>
<path d="M823.78 834.21A5.60 5.60 0 0 0 823.78 842.79"/>
<path d="M840.90 834.21A5.60 5.60 0 0 0 840.90 842.79"/>
<path d="M853.74 834.21A5.60 5.60 0 0 0 853.74 842.79"/>
<path d="M870.86 834.21A5.60 5.60 0 0 0 870.86 842.79"/>
<path d="M883.70 834.21A5.60 5.60 0 0 0 883.70 842.79"/>
<path d="M900.82 834.21A5.60 5.60 0 0 0 900.82 842.79"/>
<path d="M917.94 834.21A5.60 5.60 0 0 0 917.94 842.79"/>
<path d="M930.78 834.21A5.60 5.60 0 0 0 930.78 842.79"/>
<path d="M947.90 834.21A5.60 5.60 0 0 0 947.90 842.79"/>
</g>
<circle cx="964.34" cy="838.50" r="5.60" fill="#2ca02c"/>
<path d="M95.5 57.5V838.5H1165.5" stroke="#000" stroke-width="1" fill="none"/>
<path d="M1097.2 74.30H1145.7" stroke="#0060ad" stroke-width="2.0"/>
<circle cx="1121.4" cy="74.30" r="9.75" fill="#fff"/><circle cx="1121.4" cy="74.30" r="5.60" fill="#0060ad"/>
<path d="M1097.2 93.40H1145.7" stroke="#ff7f0e" stroke-width="2.0"/>
<circle cx="1121.4" cy="93.40" r="9.75" fill="#fff"/><circle cx="1121.4" cy="93.40" r="5.60" fill="#ff7f0e"/>
<path d="M1097.2 112.50H1145.7" stroke="#2ca02c" stroke-width="2.0"/>
<circle cx="1121.4" cy="112.50" r="9.75" fill="#fff"/><circle cx="1121.4" cy="112.50" r="5.60" fill="#2ca02c"/>
<g opacity="0.999">
<text x="1111.74 1121.85 1133.26" y="80.00" font-size="16.35" transform="scale(0.950,1)">TCP</text>
<text x="1108.60 1121.25 1133.26" y="99.10" font-size="16.35" transform="scale(0.950,1)">UDP</text>
<text x="1018.52 1022.90 1033.83 1039.34 1046.46 1052.25 1062.37 1073.78 1084.71 1090.07 1096.12 1102.03 1114.67 1126.69 1137.78" y="118.20" font-size="16.35" transform="scale(0.950,1)">IP (!TCP  !UDP)</text>
<text x="74.10" y="844.50" font-size="16.35" transform="scale(1.030,1)">0</text>
<text x="54.34 64.22 74.10" y="732.93" font-size="16.35" transform="scale(1.030,1)">200</text>
<text x="54.34 64.22 74.10" y="621.36" font-size="16.35" transform="scale(1.030,1)">400</text>
<text x="54.34 64.22 74.10" y="509.79" font-size="16.35" transform="scale(1.030,1)">600</text>
<text x="54.34 64.22 74.10" y="398.21" font-size="16.35" transform="scale(1.030,1)">800</text>
<text x="44.45 54.34 64.22 74.10" y="286.64" font-size="16.35" transform="scale(1.030,1)">1000</text>
<text x="44.45 54.34 64.22 74.10" y="175.07" font-size="16.35" transform="scale(1.030,1)">1200</text>
<text x="44.45 54.34 64.22 74.10" y="63.50" font-size="16.35" transform="scale(1.030,1)">1400</text>
<text x="91.08" y="864.20" font-size="16.35" transform="scale(1.030,1)">0</text>
<text x="293.91 303.79" y="864.20" font-size="16.35" transform="scale(1.030,1)">50</text>
<text x="496.74 506.62 516.50" y="864.20" font-size="16.35" transform="scale(1.030,1)">100</text>
<text x="704.50 714.39 724.27" y="864.20" font-size="16.35" transform="scale(1.030,1)">150</text>
<text x="912.27 922.15 932.04" y="864.20" font-size="16.35" transform="scale(1.030,1)">200</text>
<text x="1120.04 1129.92 1139.80" y="864.20" font-size="16.35" transform="scale(1.030,1)">250</text>
<text x="579.77 589.85 594.58 609.19 618.71 623.76 629.47 637.91" y="892.00" font-size="16.35" transform="scale(1.030,1)">Time (s)</text>
<g transform="translate(24.1,447.6) rotate(-90)"><text x="-30.85 -20.50 -11.01 -2.24 6.57 16.67 21.95" y="0.00" font-size="16.35" transform="scale(1.030,1)">Packets</text></g>
<text x="-13.05 -7.41 7.34 17.59 23.25 28.10 37.00 42.53 52.30 58.61 68.44 73.29 81.65 91.19 100.97 107.07 115.80 125.61 129.93 134.29 144.14 154.38 160.04 165.11 173.68 183.45 189.75 199.60 209.03 217.51 223.17 228.83 233.03 242.83 248.98 258.69 268.51 273.63 283.46 292.53 302.24 312.03 318.29 323.02 337.63 347.33 357.57" y="34.80" font-size="16.35" transform="scale(1.030,1)">/mnt/stor0/searchlight/corpus/tiered/experiment</text>
<text x="363.29" y="38.70" font-size="12.80" transform="scale(1.030,1)">3</text>
<text x="371.14 376.26 386.36 392.06 401.92" y="34.80" font-size="16.35" transform="scale(1.030,1)">/eth1</text>
<text x="411.71" y="38.70" font-size="12.80" transform="scale(1.030,1)">i</text>
<text x="415.24 425.48 431.03 440.82 447.20 452.42 461.91 470.50 480.17 485.29 495.13 504.19 513.75 519.49 528.87 534.79 544.68 554.56 564.44 574.01 579.91 590.16 596.23 610.95 615.32 624.88 630.79 641.03 647.12 652.82 662.69 672.53 677.81 687.69 697.57 707.46 717.34 727.22 737.11 746.99 756.87 766.76 776.33 782.03 790.79 800.47 805.40 813.97 823.65 833.50 843.45 849.87 859.33 864.85 870.36 876.02 880.22 890.02 896.17 905.88 915.55 920.67 930.53 940.21 949.99 956.11 965.37 973.58 979.34 989.17 998.24 1007.80 1013.53 1022.92 1028.84 1038.72 1048.61 1058.49 1068.06 1073.96 1084.20 1090.28 1104.99 1109.36 1118.93 1124.83 1135.07 1141.17 1146.87 1156.74 1166.42 1171.55 1181.21 1189.78 1199.47" y="34.80" font-size="16.35" transform="scale(1.030,1)">nterface/exp-a-1080-html5-http2/1648585108-c0.caubryt.tiered.pharos-exp-a-1080-html5-http2.pcap</text>
</g>
</svg>
</body></html>
